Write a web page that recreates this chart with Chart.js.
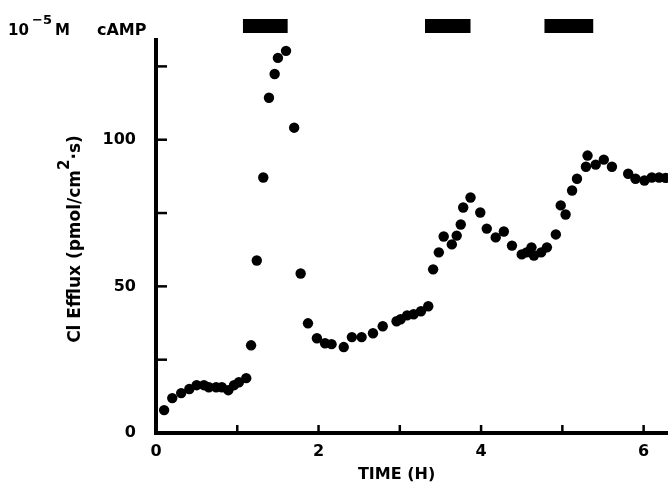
<!DOCTYPE html>
<html>
<head>
<meta charset="utf-8">
<script src="https://cdn.jsdelivr.net/npm/chart.js@4.4.1/dist/chart.umd.min.js"></script>
<style>
html,body{margin:0;padding:0;background:#fff;overflow:hidden;}
#wrap{position:relative;width:668px;height:487px;}
</style>
</head>
<body>
<div id="wrap"><canvas id="c" width="668" height="487"></canvas></div>
<script>
// Time (h) and Cl efflux (pmol/cm^2·s)
const timeH = [0.10,0.20,0.31,0.41,0.50,0.59,0.65,0.74,0.81,0.89,0.96,1.02,1.11,
  1.17,1.24,1.32,1.39,1.46,1.50,1.60,1.70,1.78,1.87,1.98,2.08,2.16,2.31,2.41,2.53,2.67,2.79,
  2.96,3.01,3.09,3.17,3.26,3.35,3.41,3.48,3.54,3.64,3.70,3.75,3.78,3.87,3.99,4.07,4.18,4.28,
  4.38,4.50,4.56,4.62,4.65,4.74,4.81,4.92,4.98,5.04,5.12,5.18,5.29,5.31,5.41,5.51,5.61,
  5.81,5.90,6.01,6.10,6.19,6.27];
const clEfflux = [7.8,11.9,13.6,15.0,16.3,16.3,15.6,15.6,15.6,14.6,16.3,17.3,18.7,
  29.9,58.8,87.1,114.3,122.4,127.9,130.3,104.1,54.4,37.4,32.3,30.6,30.3,29.3,32.7,32.7,34.0,36.4,
  38.1,38.8,40.1,40.5,41.5,43.2,55.8,61.6,67.0,64.3,67.3,71.1,76.9,80.3,75.2,69.7,66.7,68.7,
  63.9,60.9,61.6,63.3,60.5,61.6,63.3,67.7,77.6,74.5,82.7,86.7,90.8,94.6,91.5,93.2,90.8,
  88.4,86.7,86.1,87.1,87.1,87.0];
// cAMP exposure periods (h)
const campStart = [1.07, 3.31, 4.78];
const campEnd   = [1.62, 3.87, 5.38];
const campLevel = 138.8;
const yTickLabels = [0, 50, 100];
const xTickLabels = [0, 2, 4, 6];

const barData = [];
campStart.forEach((s,i)=>{ barData.push({x:s,y:campLevel},{x:campEnd[i],y:campLevel},{x:campEnd[i],y:null}); });

const FONT = "'DejaVu Sans'";

const decor = {
  id:'decor',
  afterDraw(chart){
    const ctx = chart.ctx, xs = chart.scales.x, ys = chart.scales.y;
    ctx.save();
    ctx.fillStyle = '#000'; ctx.strokeStyle = '#000';
    // inward tick marks
    ctx.lineWidth = 2.5;
    ys.ticks.forEach(t=>{
      const p = ys.getPixelForValue(t.value);
      if (t.value === 0) return;
      ctx.beginPath(); ctx.moveTo(xs.left, p); ctx.lineTo(xs.left+11, p); ctx.stroke();
    });
    xs.ticks.forEach(t=>{
      const p = xs.getPixelForValue(t.value);
      if (t.value === 0) return;
      ctx.beginPath(); ctx.moveTo(p, ys.bottom); ctx.lineTo(p, ys.bottom-8); ctx.stroke();
    });
    // x title
    ctx.font = 'bold 16px ' + FONT;
    ctx.textAlign = 'center'; ctx.textBaseline = 'alphabetic';
    ctx.fillText('TIME (H)', xs.getPixelForValue(2.96), 479);
    // y title with superscript
    ctx.translate(80, 239);
    ctx.rotate(-Math.PI/2);
    const a = 'Cl Efflux (pmol/cm', sup = '2', b = '\u00B7s)';
    ctx.font = 'bold 17px ' + FONT;
    const wa = ctx.measureText(a).width, wb = ctx.measureText(b).width;
    ctx.font = 'bold 15px ' + FONT;
    const ws = ctx.measureText(sup).width;
    let x0 = -(wa+ws+wb)/2;
    ctx.textAlign = 'left';
    ctx.font = 'bold 17px ' + FONT;
    ctx.fillText(a, x0, 0);
    ctx.font = 'bold 15px ' + FONT;
    ctx.fillText(sup, x0+wa, -11);
    ctx.font = 'bold 17px ' + FONT;
    ctx.fillText(b, x0+wa+ws, 0);
    ctx.restore();
    // concentration label
    ctx.save();
    ctx.fillStyle = '#000'; ctx.textAlign = 'left'; ctx.textBaseline = 'alphabetic';
    ctx.font = 'bold 15px ' + FONT;
    ctx.fillText('10', 8, 35);
    ctx.font = 'bold 13px ' + FONT;
    ctx.fillText('\u22125', 32, 24);
    ctx.font = 'bold 15px ' + FONT;
    ctx.fillText('M', 55, 35);
    ctx.font = 'bold 16px ' + FONT;
    ctx.fillText('cAMP', 97, 35);
    ctx.restore();
  }
};

new Chart(document.getElementById('c'), {
  type: 'scatter',
  data: {
    datasets: [
      { label:'Cl efflux', data: timeH.map((t,i)=>({x:t,y:clEfflux[i]})),
        backgroundColor:'#000', borderWidth:0, pointRadius:5.2, pointHoverRadius:5.2, clip:false },
      { label:'cAMP', type:'line', data: barData, showLine:true, spanGaps:false,
        borderColor:'#000', borderWidth:14, borderCapStyle:'butt', pointRadius:0, clip:false }
    ]
  },
  options: {
    responsive:false, animation:false,
    plugins:{ legend:{display:false}, tooltip:{enabled:false} },
    layout:{ autoPadding:false, padding:{ top:40, right:0, left:0, bottom:0 } },
    scales:{
      x:{ type:'linear', min:0, max:6.3,
        afterFit(s){ s.height = 54; s.paddingLeft = 0; s.paddingRight = 0; },
        grid:{ display:true, drawOnChartArea:false, drawTicks:false },
        border:{ display:true, color:'#000', width:4 },
        ticks:{ stepSize:1, includeBounds:false, padding:9, color:'#000', maxRotation:0,
          font:{ family:'DejaVu Sans', size:16, weight:'bold' },
          callback(v){ return xTickLabels.includes(v) ? String(v) : ''; } }
      },
      y:{ type:'linear', min:0, max:134,
        afterFit(s){ s.width = 156; s.paddingTop = 0; s.paddingBottom = 0; },
        grid:{ display:true, drawOnChartArea:false, drawTicks:false },
        border:{ display:true, color:'#000', width:4 },
        ticks:{ stepSize:25, includeBounds:false, padding:20, color:'#000',
          font:{ family:'DejaVu Sans', size:16, weight:'bold' },
          callback(v){ return yTickLabels.includes(v) ? String(v) : ''; } }
      }
    }
  },
  plugins:[decor]
});
</script>
</body>
</html>
